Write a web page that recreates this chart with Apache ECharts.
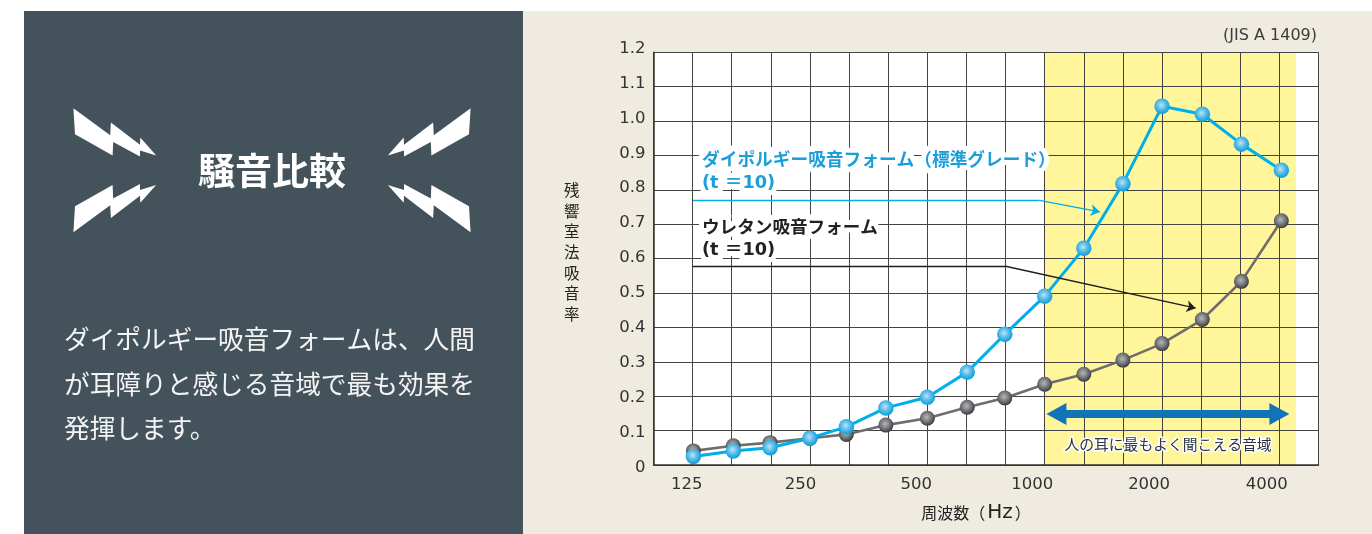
<!DOCTYPE html>
<html lang="ja"><head><meta charset="utf-8">
<style>html,body{margin:0;padding:0;background:#fff}#c{width:1372px;height:534px}</style>
<script src="https://cdn.jsdelivr.net/npm/echarts@6/dist/echarts.min.js"></script>
</head><body><div id="c"></div>
<script>
const JP = '"Noto Sans CJK JP","Noto Sans",sans-serif';
const LATIN = '"DejaVu Sans","Noto Sans CJK JP",sans-serif';

const tickPositions = [0.85, 3.76, 6.72, 9.68, 12.67, 15.68];
const tickLabels = ['125', '250', '500', '1000', '2000', '4000'];
const bandPositions = [1.02, 2.04, 2.98, 4.0, 4.93, 5.94, 7.0, 8.02, 8.98, 10.0, 11.0, 12.0, 13.0, 14.03, 15.03, 16.05];
const foamValues = [0.025, 0.041, 0.05, 0.078, 0.111, 0.166, 0.197, 0.27, 0.38, 0.491, 0.63, 0.818, 1.043, 1.02, 0.933, 0.857];
const urethaneValues = [0.041, 0.056, 0.065, 0.078, 0.089, 0.116, 0.136, 0.168, 0.195, 0.235, 0.264, 0.305, 0.353, 0.423, 0.534, 0.71];
const foamName = 'ダイポルギー吸音フォーム（標準グレード）';
const urethaneName = 'ウレタン吸音フォーム';
const thickness = '(t ＝10)';
const bandLabel = '人の耳に最もよく聞こえる音域';
const descLines = ['ダイポルギー吸音フォームは、人間', 'が耳障りと感じる音域で最も効果を', '発揮します。'];

const bolt = [[73.4,108.2],[110.2,135.2],[110.9,122.4],[140,144.7],[140.3,137.6],[156.2,155.5],[140,150.4],[140,156.5],[113.2,142],[112.6,155.5],[75,134.2]];
const boltShape = (mx, my) => ({
  type: 'polygon', z: 5, silent: true, style: { fill: '#fff' },
  shape: { points: bolt.map(([x, y]) => [mx ? 544 - x : x, my ? 340.4 - y : y]) }
});
const txt = (text, x, y, size, fill, extra) => ({
  type: 'text', z: 50, silent: true, x, y,
  style: Object.assign({ text, font: `${size}px ${JP}`, fill, textVerticalAlign: 'middle' }, extra || {})
});
const halo = { stroke: '#fff', lineWidth: 10 };

// per-tick vertical nudge for the value labels, which run on a slightly wider pitch than the grid
const yRich = {};
for (let i = 0; i <= 12; i++) {
  const up = 7 * i / 12 - 3;
  yRich['s' + i] = { fontFamily: LATIN, fontSize: 16.5, color: '#333',
    padding: up >= 0 ? [0, 0, 2 * up, 0] : [-2 * up, 0, 0, 0] };
}

const chart = echarts.init(document.getElementById('c'), null, { renderer: 'canvas' });
const sphere = (hi, mid, lo) => ({ type: 'radial', x: 0.45, y: 0.42, r: 0.58,
  colorStops: [{ offset: 0, color: hi }, { offset: 0.55, color: mid }, { offset: 1, color: lo }] });
const zip = (vals) => vals.map((v, i) => [bandPositions[i], v]);

chart.setOption({
  animation: false,
  graphic: [
    { type: 'rect', z: -10, silent: true, shape: { x: 24, y: 11, width: 499, height: 523 }, style: { fill: '#44525b' } },
    { type: 'rect', z: -10, silent: true, shape: { x: 523, y: 11, width: 849, height: 523 }, style: { fill: '#efebe0' } },
    boltShape(false, false), boltShape(false, true), boltShape(true, false), boltShape(true, true),
    txt('騒音比較', 272, 171, 37, '#fff', { font: `bold 37px ${JP}`, textAlign: 'center' }),
    txt(descLines[0], 64, 339, 25.7, '#f4f4f4'),
    txt(descLines[1], 64, 384, 25.7, '#f4f4f4'),
    txt(descLines[2], 64, 428, 25.7, '#f4f4f4'),
    txt('(JIS A 1409)', 1317, 36, 16, '#3c3c3c', { textAlign: 'right', font: `16px ${LATIN}` }),
    txt(foamName, 702, 159, 17.7, '#1a9fd8', Object.assign({ font: `bold 17.7px ${JP}` }, halo)),
    txt(thickness, 702, 183, 17.7, '#1a9fd8', Object.assign({ font: `bold 17.7px ${LATIN}` }, halo)),
    txt(urethaneName, 702, 226, 17.6, '#222', Object.assign({ font: `bold 17.6px ${JP}` }, halo)),
    txt(thickness, 702, 250, 17.7, '#222', Object.assign({ font: `bold 17.7px ${LATIN}` }, halo)),
    txt(bandLabel, 1168, 444, 14.8, '#2b3440', { textAlign: 'center', stroke: '#fff', lineWidth: 3 })
  ],
  grid: { show: true, left: 653.5, top: 52.3, width: 665, height: 412.7, backgroundColor: '#fff', borderWidth: 0 },
  xAxis: {
    type: 'value', min: 0, max: 17, interval: 1, z: 2,
    name: '{a|周波数（}{b|Hz}{a|）}', nameLocation: 'middle', nameGap: 38,
    nameTextStyle: { padding: [0, 20, 0, 0], rich: {
      a: { fontFamily: JP, fontSize: 16, color: '#222' },
      b: { fontFamily: LATIN, fontSize: 20, color: '#222', padding: [0, 2, 0, 2] } } },
    axisLine: { show: true, lineStyle: { color: '#333', width: 1.5 } },
    axisTick: { show: false },
    splitLine: { show: true, lineStyle: { color: '#444', width: 1 } },
    axisLabel: {
      customValues: tickPositions, margin: 11,
      fontFamily: LATIN, fontSize: 16.5, color: '#333',
      formatter: (v) => tickLabels[tickPositions.indexOf(v)]
    }
  },
  yAxis: {
    type: 'value', min: 0, max: 1.2, interval: 0.1, z: 2,
    name: '残響室法吸音率'.split('').map((c) => `{n|${c}}`).join('\n') + '\n{e| }',
    nameLocation: 'middle', nameGap: 74, nameRotate: 0,
    nameTextStyle: { rich: {
      n: { fontFamily: JP, fontSize: 15.5, color: '#222', lineHeight: 20.7 },
      e: { fontSize: 8, lineHeight: 13 } } },
    axisLine: { show: true, lineStyle: { color: '#333', width: 1.5 } },
    axisTick: { show: false },
    splitLine: { show: true, lineStyle: { color: '#444', width: 1 } },
    axisLabel: {
      margin: 8, rich: yRich,
      formatter: (v) => `{s${Math.round(v * 10)}|${v === 0 ? '0' : v.toFixed(1)}}`
    }
  },
  series: [
    { type: 'line', name: 'band', z: 0, data: [], silent: true,
      markArea: { z: 0, silent: true, itemStyle: { color: '#fff59b' }, data: [[{ coord: [10, 0] }, { coord: [16.42, 1.2] }]] } },
    { type: 'line', name: urethaneName, z: 3, data: zip(urethaneValues), symbol: 'circle', symbolSize: 15, showSymbol: true,
      lineStyle: { color: '#6f6c6c', width: 2.6 },
      itemStyle: { color: sphere('#b5b6b8', '#77787b', '#3a3a3c') },
      markLine: { silent: true, animation: false, label: { show: false }, symbol: ['none', 'none'],
        lineStyle: { color: '#1f1f1f', width: 1.4, type: 'solid' },
        data: [
          [{ coord: [1.01, 0.578], symbol: 'none' }, { coord: [9.0, 0.578], symbol: 'none' }],
          [{ coord: [9.0, 0.578], symbol: 'none' }, { coord: [13.86, 0.456], symbol: 'arrow', symbolSize: 9 }]
        ] } },
    { type: 'line', name: foamName, z: 4, data: zip(foamValues), symbol: 'circle', symbolSize: 15.5, showSymbol: true,
      lineStyle: { color: '#00aee8', width: 3 },
      itemStyle: { color: sphere('#bfe3f5', '#4fb9e8', '#0a9fdc') },
      markLine: { silent: true, animation: false, label: { show: false }, symbol: ['none', 'none'],
        lineStyle: { color: '#00aee8', width: 1.4, type: 'solid' },
        data: [
          [{ coord: [1.01, 0.77], symbol: 'none' }, { coord: [9.83, 0.77], symbol: 'none' }],
          [{ coord: [9.83, 0.77], symbol: 'none' }, { coord: [11.41, 0.736], symbol: 'arrow', symbolSize: 9 }],
          [{ coord: [10.3, 0.148], symbol: 'triangle', symbolSize: [22, 20], symbolRotate: 90,
             lineStyle: { color: '#1273b9', width: 8 }, itemStyle: { color: '#1273b9' } },
           { coord: [16.0, 0.148], symbol: 'triangle', symbolSize: [22, 20],
             lineStyle: { color: '#1273b9', width: 8 }, itemStyle: { color: '#1273b9' } }]
        ] } }
  ]
});
</script></body></html>
